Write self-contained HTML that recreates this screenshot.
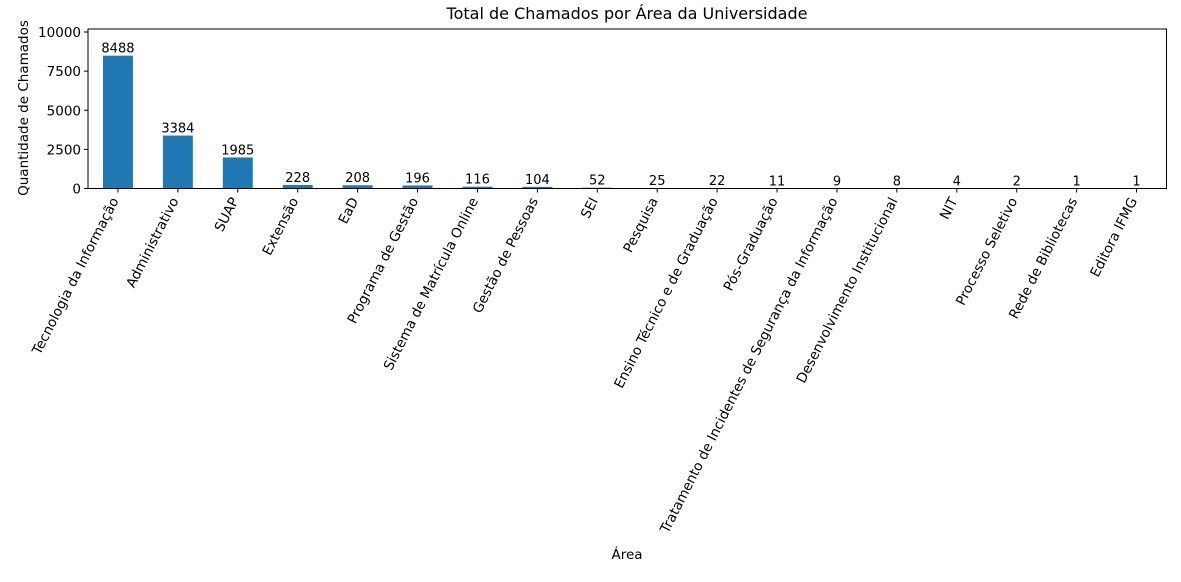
<!DOCTYPE html>
<html><head><meta charset="utf-8"><style>
body{margin:0;background:#fff}
svg text{font-family:"DejaVu Sans","Liberation Sans",sans-serif;fill:#000}
</style></head><body>
<svg id="chart" width="1181" height="577" xmlns="http://www.w3.org/2000/svg">
<text x="627" y="19" font-size="16" text-anchor="middle">Total de Chamados por Área da Universidade</text>
<text transform="translate(28,108) rotate(-90)" font-size="13.5" text-anchor="middle">Quantidade de Chamados</text>
<text x="627" y="559" font-size="13.5" text-anchor="middle">Área</text>
<g id="plot"></g>
</svg>
<script>
const categories=["Tecnologia da Informação","Administrativo","SUAP","Extensão","EaD","Programa de Gestão","Sistema de Matrícula Online","Gestão de Pessoas","SEI","Pesquisa","Ensino Técnico e de Graduação","Pós-Graduação","Tratamento de Incidentes de Segurança da Informação","Desenvolvimento Institucional","NIT","Processo Seletivo","Rede de Bibliotecas","Editora IFMG"];
const values=[8488,3384,1985,228,208,196,116,104,52,25,22,11,9,8,4,2,1,1];
const yTicks=[0,2500,5000,7500,10000];
const L=88,R=1166.5,T=29,B=188.5,yMax=10192;
const NS="http://www.w3.org/2000/svg";
const g=document.getElementById('plot');
const n=categories.length;
const step=(R-L)/n;
const xs=i=>L+step*(i+0.5);
const ys=v=>B-(v/yMax)*(B-T);
function mk(t,a){const e=document.createElementNS(NS,t);for(const k in a)e.setAttribute(k,a[k]);g.appendChild(e);return e;}
values.forEach((v,i)=>{
  const b=mk('rect',{x:xs(i)-step*0.25,y:ys(v),width:step*0.5,height:B-ys(v),fill:'#1f77b4'});
  
  
  const t=mk('text',{x:xs(i),y:ys(v)-3,'font-size':13,'text-anchor':'middle'});
  t.textContent=v;
  
  
  mk('line',{x1:xs(i),x2:xs(i),y1:B,y2:B+4,stroke:'#000','stroke-width':1});
  const c=mk('text',{transform:`translate(${xs(i)+1},${B+12}) rotate(-63)`,'font-size':13.6,'text-anchor':'end'});
  c.textContent=categories[i];
  
  
});
yTicks.forEach(v=>{
  mk('line',{x1:L-4,x2:L,y1:ys(v),y2:ys(v),stroke:'#000','stroke-width':1});
  const t=mk('text',{x:L-7,y:ys(v)+5,'font-size':13.5,'text-anchor':'end'});
  t.textContent=v;
  
  
});
const f=mk('rect',{x:L,y:T,width:R-L,height:B-T,fill:'none',stroke:'#000','stroke-width':1});


</script>
</body></html>
